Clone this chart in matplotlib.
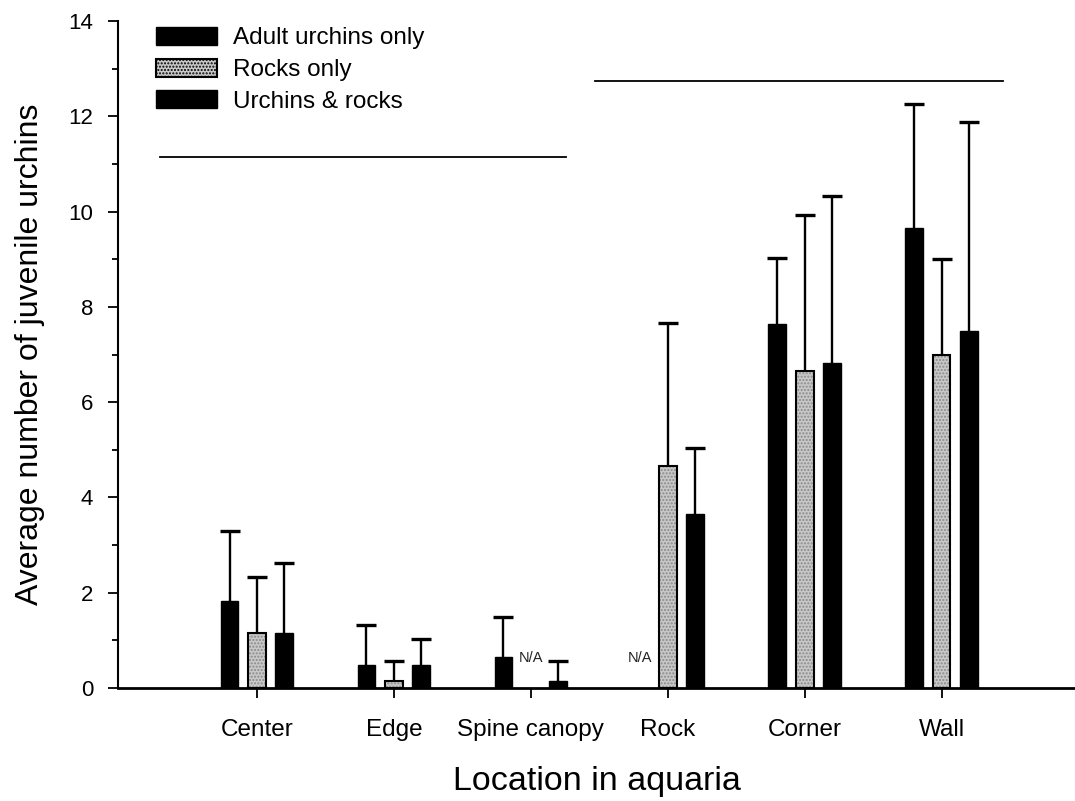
import matplotlib
matplotlib.use("Agg")
import matplotlib.pyplot as plt
from matplotlib.patches import Patch
import numpy as np

plt.rcParams['font.family'] = ['Liberation Sans', 'DejaVu Sans']

categories = ["Center", "Edge", "Spine canopy", "Rock", "Corner", "Wall"]
series_names = ["Adult urchins only", "Rocks only", "Urchins & rocks"]
# means (None = N/A)
adult_only = [1.83, 0.48, 0.66, None, 7.65, 9.65]
rocks_only = [1.16, 0.15, None, 4.65, 6.65, 7.00]
urchins_rocks = [1.16, 0.48, 0.15, 3.65, 6.82, 7.50]
# upper error bar ends
adult_only_err_top = [3.30, 1.33, 1.48, None, 9.03, 12.25]
rocks_only_err_top = [2.33, 0.56, None, 7.67, 9.93, 9.00]
urchins_rocks_err_top = [2.63, 1.03, 0.56, 5.03, 10.32, 11.87]
# significance lines: (start, end, height)
sig_lines = [(0.29, 3.26, 11.15), (3.47, 6.45, 12.75)]

W, H = 1075, 801
fig = plt.figure(figsize=(W / 100, H / 100), dpi=100)
ax = fig.add_axes([118 / W, 1 - 688 / H, 1 - 118 / W, (688 - 21) / H])

x = np.arange(1, len(categories) + 1)
offsets = [-0.2, 0.0, 0.2]
bw = 0.13
gray = '#c8c8c8'

series = [(adult_only, adult_only_err_top, 'black'),
          (rocks_only, rocks_only_err_top, gray),
          (urchins_rocks, urchins_rocks_err_top, 'black')]

for (vals, tops, col), off in zip(series, offsets):
    for xi, v, t in zip(x, vals, tops):
        if v is None:
            ax.text(xi + off, 0.55, "N/A", ha='center', va='baseline',
                    fontsize=10.5, color='#222222')
            continue
        if col == gray:
            ax.bar(xi + off, v, width=bw, color=gray, edgecolor='#8a8a8a',
                   hatch='.....', linewidth=0, zorder=2)
            ax.bar(xi + off, v, width=bw, color='none', edgecolor='black',
                   linewidth=1.5, zorder=3)
        else:
            ax.bar(xi + off, v, width=bw, color='black', edgecolor='black',
                   linewidth=1, zorder=3)
        ax.errorbar(xi + off, v, yerr=[[0], [t - v]], fmt='none',
                    ecolor='black', elinewidth=1.7, capsize=0, zorder=2)
        ax.plot([xi + off], [t], marker='_', markersize=14.5,
                markeredgewidth=2.4, color='black', zorder=2)

for s, e, h in sig_lines:
    ax.plot([s, e], [h, h], color='black', lw=1.3)

ax.set_xlim(-0.015, 6.975)
ax.set_ylim(0, 14)
ax.set_xticks(x)
ax.set_xticklabels(categories, fontsize=17.5)
ax.set_yticks(np.arange(0, 15, 2))
ax.set_yticks(np.arange(1, 14, 2), minor=True)
ax.tick_params(axis='y', which='major', labelsize=16, length=7, width=1.3, direction='out', pad=11)
ax.tick_params(axis='y', which='minor', length=4.5, width=1.3, direction='out')
ax.tick_params(axis='x', which='major', length=7, width=1.3, direction='out', pad=15)
ax.spines['top'].set_visible(False)
ax.spines['right'].set_visible(False)
ax.spines['left'].set_linewidth(1.5)
ax.spines['bottom'].set_linewidth(2)

ax.set_ylabel("Average number of juvenile urchins", fontsize=23, labelpad=17)
ax.set_xlabel("Location in aquaria", fontsize=24.5, labelpad=18)

handles = [Patch(facecolor='black', edgecolor='black'),
           Patch(facecolor=gray, edgecolor='black', hatch='.....', linewidth=1.5),
           Patch(facecolor='black', edgecolor='black')]
fig.legend(handles, series_names, loc='upper left',
           bbox_to_anchor=(156 / W, 1 - 27 / H), frameon=False, fontsize=17.5,
           handlelength=2.5, handleheight=0.76, handletextpad=0.68,
           labelspacing=0.38, borderpad=0, borderaxespad=0)

fig.savefig("out.png", dpi=100)
